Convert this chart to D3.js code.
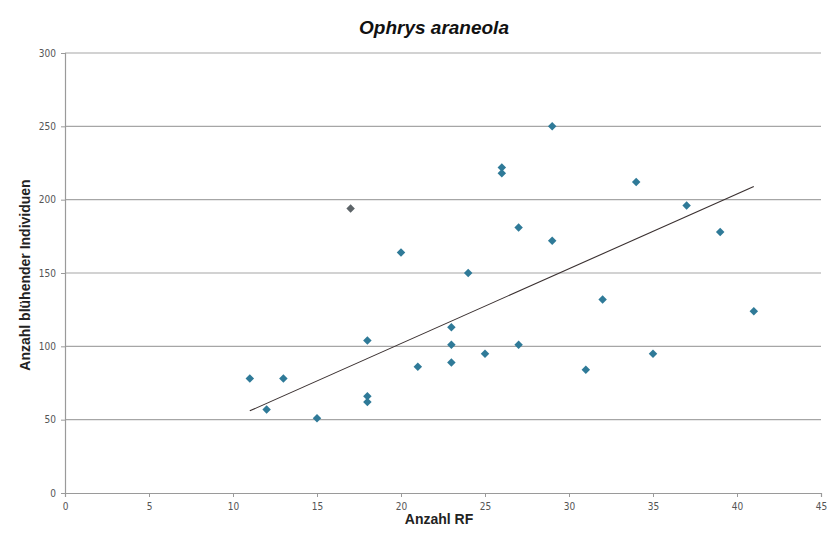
<!DOCTYPE html>
<html>
<head>
<meta charset="utf-8">
<script src="https://cdn.jsdelivr.net/npm/d3@7"></script>
<style>
  body { margin: 0; background: #fff; }
  svg { display: block; }
</style>
</head>
<body>
<svg id="chart" width="827" height="534"></svg>
<script>
// ----------------- DATA ----------------- //
var rfCount = [11, 12, 13, 15, 17, 18, 18, 18, 20, 21, 23, 23, 23, 24, 25, 26, 26, 27, 27, 29, 29, 31, 32, 34, 35, 37, 39, 41];
var flowering = [78, 57, 78, 51, 194, 104, 66, 62, 164, 86, 113, 101, 89, 150, 95, 222, 218, 181, 101, 250, 172, 84, 132, 212, 95, 196, 178, 124];
var trendX = [11, 41];
var trendY = [56, 209];
var xTicks = [0, 5, 10, 15, 20, 25, 30, 35, 40, 45];
var yTicks = [0, 50, 100, 150, 200, 250, 300];

// ----------------- SETUP ----------------- //
var svg = d3.select('#chart');
var margin = {left: 65, right: 6, top: 53, bottom: 41};
var width = 827, height = 534;

var x = d3.scaleLinear().domain([0, 45]).range([margin.left, width - margin.right]);
var y = d3.scaleLinear().domain([0, 300]).range([height - margin.bottom, margin.top]);

var tickFont = '"Liberation Sans Narrow", "Arial Narrow", "DejaVu Sans Condensed", sans-serif';

// gridlines
svg.append('g')
    .selectAll('line')
    .data(yTicks.filter(d => d > 0))
    .join('line')
    .attr('x1', x(0))
    .attr('x2', x(45))
    .attr('y1', d => y(d))
    .attr('y2', d => y(d))
    .attr('stroke', '#a6a6a6')
    .attr('stroke-width', 1.2);

// axes
var xAxis = svg.append('g')
    .attr('transform', 'translate(0,' + y(0) + ')')
    .call(d3.axisBottom(x).tickValues(xTicks).tickSize(4).tickPadding(6));
var yAxis = svg.append('g')
    .attr('transform', 'translate(' + x(0) + ',0)')
    .call(d3.axisLeft(y).tickValues(yTicks).tickSize(4).tickPadding(5));

[xAxis, yAxis].forEach(function (ax) {
    ax.select('.domain').attr('stroke', '#9a9a9a').attr('stroke-width', 1.2);
    ax.selectAll('.tick line').attr('stroke', '#9a9a9a');
    ax.selectAll('.tick text')
        .attr('fill', '#555')
        .style('font-family', tickFont)
        .style('font-size', '10px');
});

// ----------------- TRENDLINE ----------------- //
svg.append('line')
    .attr('x1', x(trendX[0]))
    .attr('y1', y(trendY[0]))
    .attr('x2', x(trendX[1]))
    .attr('y2', y(trendY[1]))
    .attr('stroke', '#3a3030')
    .attr('stroke-width', 1.1);

// ----------------- POINTS ----------------- //
var points = rfCount.map((d, i) => ({x: d, y: flowering[i]}));
svg.append('g')
    .selectAll('path')
    .data(points)
    .join('path')
    .attr('d', d3.symbol().type(d3.symbolDiamond2).size(46))
    .attr('transform', d => 'translate(' + x(d.x) + ',' + y(d.y) + ')')
    .attr('fill', (d, i) => i === 4 ? '#5d6468' : '#2f7a98');

// ----------------- TEXT ----------------- //
svg.append('text')
    .attr('x', 434)
    .attr('y', 34)
    .attr('text-anchor', 'middle')
    .style('font-family', '"Liberation Sans", Arial, sans-serif')
    .style('font-size', '19px')
    .style('font-weight', 'bold')
    .style('font-style', 'italic')
    .attr('fill', '#111')
    .text('Ophrys araneola');

svg.append('text')
    .attr('x', 439)
    .attr('y', 524)
    .attr('text-anchor', 'middle')
    .style('font-family', '"Liberation Sans", Arial, sans-serif')
    .style('font-size', '14px')
    .style('font-weight', 'bold')
    .attr('fill', '#222')
    .text('Anzahl RF');

svg.append('text')
    .attr('transform', 'translate(30,275) rotate(-90)')
    .attr('text-anchor', 'middle')
    .style('font-family', '"Liberation Sans", Arial, sans-serif')
    .style('font-size', '14px')
    .style('font-weight', 'bold')
    .attr('fill', '#222')
    .text('Anzahl blühender Individuen');
</script>
</body>
</html>
